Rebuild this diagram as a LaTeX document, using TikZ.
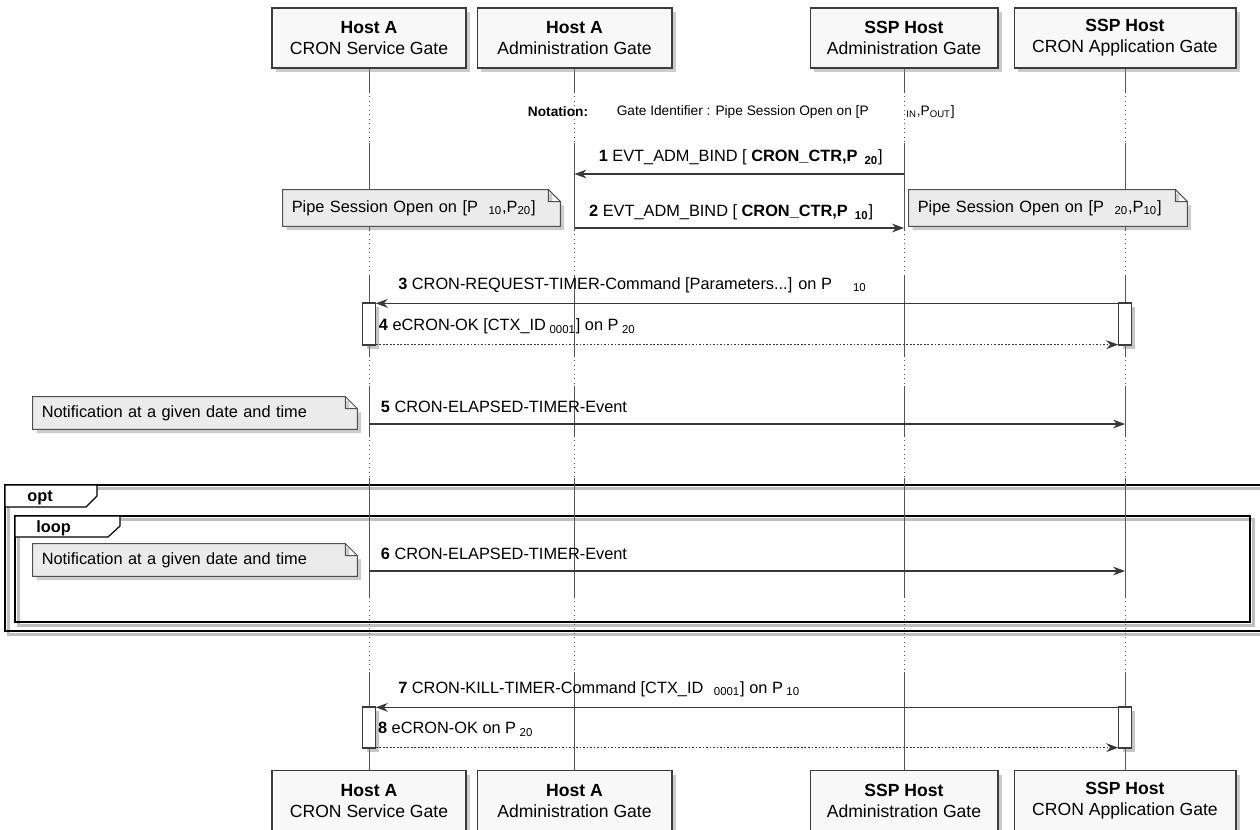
\documentclass[tikz,border=0pt]{standalone}
\usepackage{fontspec}
\setmainfont{Liberation Sans}
\usetikzlibrary{positioning}
\usetikzlibrary{arrows.meta, shadows, calc, backgrounds}
\definecolor{colGate}{HTML}{F8F8F8}
\definecolor{strokeGate}{HTML}{3C3C3C}
\definecolor{colNote}{HTML}{EBEBEB}
\definecolor{strokeNote}{HTML}{505050}
\definecolor{strokeLife}{HTML}{555555}
\definecolor{strokeMsg}{HTML}{383838}

\begin{document}
\begin{tikzpicture}[
		x=0.02cm, y=-0.02cm, % one unit = one pixel of the sketch
		font=\fontsize{9.3}{11}\selectfont,
		% Node Styles
		base/.style={draw=strokeGate, line width=0.6pt, align=center},
		gate/.style={base, fill=colGate, minimum height=1.2cm, inner sep=2pt, font=\fontsize{10}{12}\selectfont,
			drop shadow={shadow xshift=2.2pt, shadow yshift=-2.2pt, opacity=0.4}},
		act/.style={base, fill=white, minimum width=0.25cm, inner sep=0pt,
			drop shadow={shadow xshift=2.2pt, shadow yshift=-2.2pt, opacity=0.45}},
		note/.style={inner xsep=5pt, inner ysep=0pt, align=left},
		notepaper/.style={fill=colNote, draw=strokeNote, line width=0.6pt,
			drop shadow={shadow xshift=2.2pt, shadow yshift=-2.2pt, opacity=0.4}},
		notation/.style={inner sep=0pt, font=\fontsize{7.8}{9}\selectfont},
		life/.style={draw=strokeLife, line width=0.55pt},
		arrow/.style={-{Stealth[length=6.8pt, width=5pt, inset=2.2pt]}, draw=strokeMsg, line width=0.65pt},
		reply/.style={arrow, dash pattern=on 1pt off 1pt},
		msg/.style={anchor=base west, inner sep=0pt},
		frame/.style={draw=black, line width=1.4pt,
			preaction={draw=black, opacity=0.25, line width=1.8pt, transform canvas={xshift=1.8pt, yshift=-1.8pt}}},
		tab/.style={draw=black, line width=0.7pt, fill=white},
		tag/.style={anchor=base west, inner sep=0pt, font=\fontsize{9.3}{11}\selectfont\bfseries}
	]
	\useasboundingbox (0,0) rectangle (1260,829);
	
	%% ================= GATES =================
	\node[gate, minimum width=3.88cm] (hostCron) at (369,38) {\textbf{Host A}\\CRON Service Gate};
	\node[gate, minimum width=3.9cm] (hostAdm) at (574.5,38) {\textbf{Host A}\\Administration Gate};
	\node[gate, minimum width=3.76cm] (sspAdm) at (904,38) {\textbf{SSP Host}\\Administration Gate};
	\node[gate, minimum width=4.44cm] (sspCron) at (1125,38) {\textbf{SSP Host}\\CRON Application Gate};
	
	\node[gate, minimum width=3.88cm, below=14.04cm of hostCron] (hostCronB) {\textbf{Host A}\\CRON Service Gate};
	\node[gate, minimum width=3.9cm, below=14.04cm of hostAdm] (hostAdmB) {\textbf{Host A}\\Administration Gate};
	\node[gate, minimum width=3.76cm, below=14.04cm of sspAdm] (sspAdmB) {\textbf{SSP Host}\\Administration Gate};
	\node[gate, minimum width=4.44cm, below=14.04cm of sspCron] (sspCronB) {\textbf{SSP Host}\\CRON Application Gate};
	
	%% ================= FRAMES & LIFELINES =================
	\begin{scope}[on background layer]
		\draw[frame] (5,485) rectangle (1275,631);
		\draw[frame] (15,516) rectangle (1250,622);
		\foreach \g in {hostCron, hostAdm, sspAdm, sspCron}{
			\foreach \a/\b in {68/92, 143/230, 275/356, 386/436, 478/597, 672/772}
				\draw[life] (\g |- 0,\a) -- (\g |- 0,\b);
			\foreach \a/\b in {92/143, 230/275, 356/386, 436/478, 597/672}
				\draw[life, dotted] (\g |- 0,\a) -- (\g |- 0,\b);
		}
	\end{scope}
	
	\draw[tab] (5,485) -- (97,485) -- (97,496) -- (86,507) -- (5,507) -- cycle;
	\node[tag] (optTag) at (27,501) {opt};
	\draw[tab] (15,516) -- (120,516) -- (120,526) -- (108,537) -- (15,537) -- cycle;
	\node[tag] (loopTag) at (36,532) {loop};
	
	%% ================= NOTATION =================
	\node[notation, font=\fontsize{7.8}{9}\selectfont\bfseries] (notationKey) at (558,112) {Notation:};
	\node[notation, right=0.56cm of notationKey] (notationText) {Gate Identifier : Pipe Session Open on [P};
	\node[notation, anchor=west] (notationSub) at (906,112) {\textsubscript{IN},P\textsubscript{OUT}]};
	
	%% ================= NOTES =================
	\node[note, text width=5.19cm, minimum height=0.72cm] (pipeL) at (421.5,208) {Pipe Session Open on [P\hspace{6pt}\textsubscript{10},P\textsubscript{20}]};
	\node[note, text width=5.21cm, minimum height=0.72cm] (pipeR) at (1048,208) {Pipe Session Open on [P\hspace{6pt}\textsubscript{20},P\textsubscript{10}]};
	\node[note, text width=6.13cm, minimum height=0.64cm] (notifA) at (195,413) {Notification at a given date and time};
	\node[note, text width=6.13cm, minimum height=0.64cm] (notifB) at (195,560) {Notification at a given date and time};
	
	\begin{scope}[on background layer]
		\foreach \n in {pipeL, pipeR, notifA, notifB}
			\draw[notepaper] (\n.south west) -- (\n.north west) -- ([xshift=-6.8pt]\n.north east) -- ([yshift=-6.8pt]\n.north east) -- (\n.south east) -- cycle
				([xshift=-6.8pt]\n.north east) |- ([yshift=-6.8pt]\n.north east);
	\end{scope}
	
	%% ================= MESSAGES =================
	\coordinate (m1) at (0,174);
	\coordinate (m2) at (0,228);
	\coordinate (m5) at (0,424);
	\coordinate (m6) at (0,571);
	
	\node[act, minimum height=0.84cm] (actL3) at (369,324) {};
	\node[act, minimum height=0.84cm] (actR3) at (1125,324) {};
	\node[act, minimum height=0.82cm] (actL7) at (369,727.5) {};
	\node[act, minimum height=0.82cm] (actR7) at (1125,727.5) {};
	
	\draw[arrow] (sspAdm |- m1) -- (hostAdm |- m1) node[msg, at end, xshift=13.5pt, yshift=7pt]
		{\textbf{1} EVT\_ADM\_BIND [ \textbf{CRON\_CTR,P}\hspace{4pt}\textbf{\textsubscript{20}}]};
	\draw[arrow] (hostAdm |- m2) -- (sspAdm |- m2) node[msg, at start, xshift=8pt, yshift=6.5pt]
		{\textbf{2} EVT\_ADM\_BIND [ \textbf{CRON\_CTR,P}\hspace{4pt}\textbf{\textsubscript{10}}]};
	
	\draw[arrow] ([yshift=-0.5pt]actR3.north west) -- ([yshift=-0.5pt]actL3.north east) node[msg, at end, xshift=12.5pt, yshift=8pt]
		{\textbf{3} CRON-REQUEST-TIMER-Command [Parameters...] on P\hspace{12pt}\textsubscript{10}};
	\draw[reply] ([yshift=0.5pt]actL3.south east) -- ([yshift=0.5pt]actR3.south west) node[msg, at start, xshift=1.5pt, yshift=8pt]
		{\textbf{4} eCRON-OK [CTX\_ID\hspace{2pt}\textsubscript{0001}] on P\hspace{2pt}\textsubscript{20}};
	
	\draw[arrow] (hostCron |- m5) -- (sspCron |- m5) node[msg, at start, xshift=6.5pt, yshift=6.5pt]
		{\textbf{5} CRON-ELAPSED-TIMER-Event};
	\draw[arrow] (hostCron |- m6) -- (sspCron |- m6) node[msg, at start, xshift=6.5pt, yshift=6.5pt]
		{\textbf{6} CRON-ELAPSED-TIMER-Event};
	
	\draw[arrow] ([yshift=-0.5pt]actR7.north west) -- ([yshift=-0.5pt]actL7.north east) node[msg, at end, xshift=12.5pt, yshift=8pt]
		{\textbf{7} CRON-KILL-TIMER-Command [CTX\_ID\hspace{6pt}\textsubscript{0001}] on P\hspace{2pt}\textsubscript{10}};
	\draw[reply] ([yshift=0.5pt]actL7.south east) -- ([yshift=0.5pt]actR7.south west) node[msg, at start, xshift=1pt, yshift=8pt]
		{\textbf{8} eCRON-OK on P\hspace{2pt}\textsubscript{20}};
	
\end{tikzpicture}
\end{document}
